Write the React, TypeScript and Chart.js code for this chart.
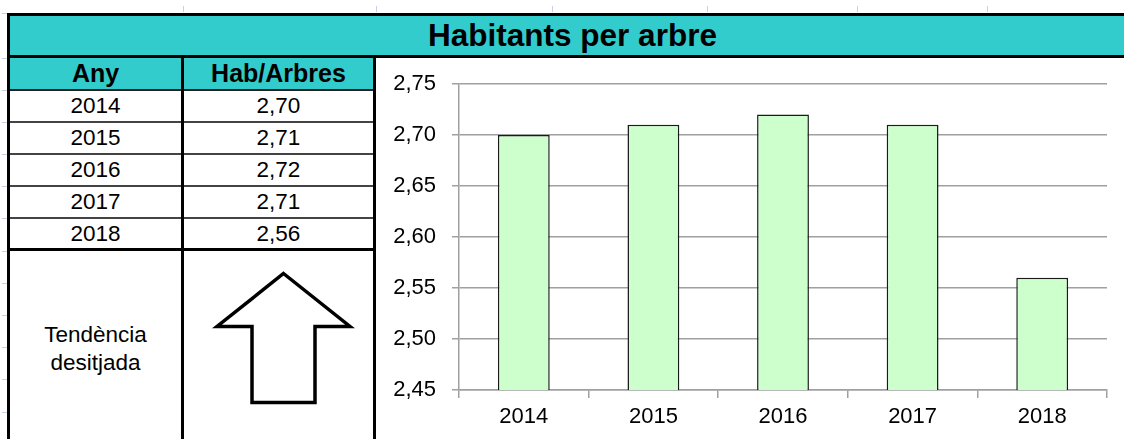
import React, { useEffect, useRef } from "react";
import { Chart, registerables } from "chart.js";

Chart.register(...registerables);

// ---- data ----
const title = "Habitants per arbre";
const colHeaders = ["Any", "Hab/Arbres"];
const years = ["2014", "2015", "2016", "2017", "2018"];
const habPerArbre = [2.7, 2.71, 2.72, 2.71, 2.56];
const yTicks = [2.45, 2.5, 2.55, 2.6, 2.65, 2.7, 2.75];
const trendLabel = ["Tendència", "desitjada"];

const FONT = "'Liberation Sans', Arial, Helvetica, sans-serif";
const TEAL = "#33CCCC";
const GRID = "#a0a0a0";
const FAINT = "#c8d2e4";

const fmt = (v: number) => v.toFixed(2).replace(".", ",");

const line = (key: string, left: number, top: number, width: number, height: number, color: string) => (
  <div key={key} style={{ position: "absolute", left, top, width, height, background: color }} />
);

export default function App() {
  const canvasRef = useRef<HTMLCanvasElement | null>(null);

  useEffect(() => {
    document.body.style.margin = "0";
    const canvas = canvasRef.current;
    if (!canvas) return;
    const chart = new Chart(canvas, {
      type: "bar",
      data: {
        labels: years,
        datasets: [
          {
            data: habPerArbre,
            backgroundColor: "#CCFFCC",
            borderColor: "#1a1a1a",
            borderWidth: 1.5,
            barPercentage: 0.4,
            categoryPercentage: 1,
          },
        ],
      },
      options: {
        responsive: false,
        animation: false,
        devicePixelRatio: 1,
        layout: { padding: { top: 26, right: 17, left: 0, bottom: 0 } },
        plugins: {
          legend: { display: false },
          tooltip: { enabled: false },
          title: { display: false },
        },
        scales: {
          x: {
            offset: true,
            grid: {
              offset: true,
              drawOnChartArea: false,
              drawTicks: true,
              tickLength: 8,
              color: GRID,
              lineWidth: 1.5,
            },
            border: { color: GRID, width: 1.5 },
            ticks: {
              font: { family: FONT, size: 22 },
              color: "#000",
              padding: 6,
              maxRotation: 0,
              autoSkip: false,
            },
            afterFit: (s: any) => {
              s.height = 49;
              s.paddingLeft = 0;
              s.paddingRight = 0;
            },
          },
          y: {
            min: yTicks[0],
            max: yTicks[yTicks.length - 1],
            grid: { color: GRID, lineWidth: 1.5, drawTicks: true, tickLength: 7 },
            border: { color: GRID, width: 1.5 },
            ticks: {
              font: { family: FONT, size: 22 },
              color: "#000",
              padding: 16,
              callback: (v: any) => fmt(Number(v)),
            },
            afterBuildTicks: (s: any) => {
              s.ticks = yTicks.map((v) => ({ value: v }));
            },
            afterFit: (s: any) => {
              s.width = 82;
              s.paddingTop = 0;
              s.paddingBottom = 0;
            },
          },
        },
      },
    } as any);
    return () => chart.destroy();
  }, []);

  const rowTop = 90;
  const rowH = 32;

  const faintLeft = [13, 58, 90, 122, 154, 186, 218, 251, 283, 315, 347, 379, 412];
  const faintTop = [183, 376, 552, 707, 857, 987];

  return (
    <div
      style={{
        position: "absolute",
        left: 0,
        top: 0,
        width: 1124,
        height: 439,
        overflow: "hidden",
        background: "#fff",
        fontFamily: FONT,
        color: "#000",
      }}
    >
      {/* faint spreadsheet grid marks */}
      {faintLeft.map((y, i) => line("fl" + i, 2, y, 5, 1, FAINT))}
      {faintTop.map((x, i) => line("ft" + i, x, 6, 1, 6, FAINT))}

      {/* title bar */}
      <div style={{ position: "absolute", left: 8, top: 13, width: 1200, height: 45, background: TEAL }} />
      <div
        style={{
          position: "absolute",
          left: 0,
          top: 16,
          width: 1145,
          height: 39,
          lineHeight: "39px",
          textAlign: "center",
          fontWeight: "bold",
          fontSize: 31.5,
        }}
      >
        {title}
      </div>

      {/* header row */}
      <div style={{ position: "absolute", left: 8, top: 58, width: 367, height: 32, background: TEAL }} />
      <div
        style={{
          position: "absolute",
          left: 10,
          top: 58,
          width: 171,
          height: 31,
          lineHeight: "31px",
          textAlign: "center",
          fontWeight: "bold",
          fontSize: 25,
        }}
      >
        {colHeaders[0]}
      </div>
      <div
        style={{
          position: "absolute",
          left: 184,
          top: 58,
          width: 189,
          height: 31,
          lineHeight: "31px",
          textAlign: "center",
          fontWeight: "bold",
          fontSize: 25,
        }}
      >
        {colHeaders[1]}
      </div>

      {/* data rows */}
      {years.map((y, i) => (
        <React.Fragment key={y}>
          <div
            style={{
              position: "absolute",
              left: 10,
              top: rowTop + i * rowH,
              width: 171,
              height: rowH,
              lineHeight: rowH + "px",
              textAlign: "center",
              fontSize: 22.5,
            }}
          >
            {y}
          </div>
          <div
            style={{
              position: "absolute",
              left: 184,
              top: rowTop + i * rowH,
              width: 189,
              height: rowH,
              lineHeight: rowH + "px",
              textAlign: "center",
              fontSize: 22.5,
            }}
          >
            {fmt(habPerArbre[i])}
          </div>
        </React.Fragment>
      ))}

      {/* trend cell */}
      <div
        style={{
          position: "absolute",
          left: 10,
          top: 321,
          width: 171,
          lineHeight: "28px",
          textAlign: "center",
          fontSize: 22.5,
        }}
      >
        {trendLabel[0]}
        <br />
        {trendLabel[1]}
      </div>

      <svg style={{ position: "absolute", left: 0, top: 0 }} width={1124} height={439}>
        <polygon
          points="283.5,273.5 350,326.5 315,326.5 315,402.5 252,402.5 252,326.5 217,326.5"
          fill="#fff"
          stroke="#000"
          strokeWidth={3.5}
          strokeLinejoin="miter"
        />
      </svg>

      {/* table lines */}
      {line("tb-top", 7, 13, 1200, 3, "#000")}
      {line("tb-bot", 7, 55, 1200, 3, "#000")}
      {line("hdr-bot", 8, 89, 367, 2, "#222")}
      {[1, 2, 3, 4].map((i) => line("row" + i, 8, rowTop + i * rowH - 1, 367, 2, "#444"))}
      {line("row-end", 8, 248, 367, 3, "#000")}
      {line("v-left", 7, 13, 3, 430, "#000")}
      {line("v-mid", 181, 58, 3, 385, "#000")}
      {line("v-right", 373, 58, 3, 385, "#000")}

      {/* chart */}
      <canvas
        ref={canvasRef}
        width={747}
        height={381}
        style={{ position: "absolute", left: 377, top: 58, width: 747, height: 381 }}
      />
    </div>
  );
}
